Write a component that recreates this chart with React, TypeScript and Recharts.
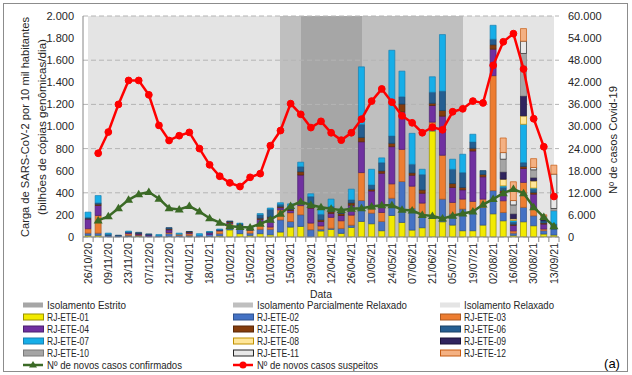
import React from "react";
import { Bar, CartesianGrid, ComposedChart, Line, XAxis, YAxis } from "recharts";

// weekly categories (epidemiological weeks)
const weeks = [
  "26/10/20", "02/11/20", "09/11/20", "16/11/20", "23/11/20", "30/11/20", "07/12/20", "14/12/20",
  "21/12/20", "28/12/20", "04/01/21", "11/01/21", "18/01/21", "25/01/21", "01/02/21", "08/02/21",
  "15/02/21", "22/02/21", "01/03/21", "08/03/21", "15/03/21", "22/03/21", "29/03/21", "05/04/21",
  "12/04/21", "19/04/21", "26/04/21", "03/05/21", "10/05/21", "17/05/21", "24/05/21", "31/05/21",
  "07/06/21", "14/06/21", "21/06/21", "28/06/21", "05/07/21", "12/07/21", "19/07/21", "26/07/21",
  "02/08/21", "09/08/21", "16/08/21", "23/08/21", "30/08/21", "06/09/21", "13/09/21"
];

// isolation phases: first week of each phase
const phaseStarts = ["26/10/20", "08/03/21", "22/03/21", "03/05/21", "12/07/21"];
const phaseNames = [
  "Isolamento Relaxado",
  "Isolamento Parcialmente Relaxado",
  "Isolamento Estrito",
  "Isolamento Parcialmente Relaxado",
  "Isolamento Relaxado"
];

// SARS-CoV-2 load per station (bilhões de cópias / 10 mil hab / dia)
const ete01 = [15, 15, 0, 0, 5, 8, 0, 0, 5, 0, 5, 0, 3, 10, 65, 30, 15, 30, 20, 45, 90, 96, 0, 55, 69, 33, 87, 141, 120, 57, 195, 132, 63, 84, 960, 138, 108, 57, 57, 108, 210, 147, 15, 138, 102, 27, 18];
const ete02 = [20, 20, 15, 10, 10, 5, 8, 12, 25, 15, 10, 15, 20, 20, 15, 40, 20, 40, 50, 110, 50, 105, 66, 15, 10, 45, 20, 189, 96, 84, 156, 370, 195, 93, 20, 205, 99, 196, 181, 160, 210, 75, 20, 130, 90, 30, 54];
const ete03 = [40, 160, 0, 0, 15, 5, 0, 0, 10, 10, 15, 0, 0, 25, 40, 20, 25, 50, 20, 90, 80, 83, 60, 30, 99, 69, 91, 253, 39, 81, 130, 291, 202, 130, 60, 397, 106, 90, 84, 75, 1040, 106, 20, 226, 67, 15, 0];
const ete04 = [87, 90, 0, 0, 10, 10, 10, 0, 25, 0, 10, 0, 15, 5, 10, 10, 10, 40, 80, 20, 20, 277, 135, 40, 36, 48, 90, 279, 162, 355, 337, 340, 99, 89, 150, 354, 135, 84, 457, 202, 240, 75, 50, 126, 129, 45, 0];
const ete05 = [5, 12, 0, 0, 0, 4, 0, 0, 8, 0, 8, 0, 0, 0, 10, 5, 5, 10, 10, 10, 10, 30, 15, 15, 15, 18, 20, 39, 15, 21, 30, 70, 21, 30, 20, 51, 36, 21, 24, 21, 40, 15, 10, 18, 15, 10, 0];
const ete06 = [10, 12, 10, 6, 5, 10, 10, 0, 12, 0, 2, 0, 7, 7, 5, 15, 10, 30, 70, 20, 25, 45, 90, 50, 47, 31, 28, 117, 39, 75, 66, 66, 78, 139, 100, 175, 129, 135, 57, 35, 50, 30, 20, 36, 30, 20, 45];
const ete07 = [48, 66, 10, 0, 8, 0, 0, 10, 0, 10, 0, 15, 5, 5, 0, 5, 5, 12, 12, 15, 25, 41, 25, 50, 67, 8, 97, 522, 142, 43, 776, 232, 280, 48, 140, 512, 91, 166, 70, 0, 126, 15, 15, 346, 10, 0, 121];
const ete08 = [0, 0, 0, 0, 0, 0, 0, 0, 0, 0, 0, 0, 0, 0, 0, 0, 0, 0, 0, 0, 0, 0, 0, 0, 0, 0, 0, 0, 0, 0, 0, 0, 0, 0, 0, 0, 0, 0, 0, 0, 0, 60, 15, 76, 65, 0, 0];
const ete09 = [0, 0, 0, 0, 0, 0, 0, 0, 0, 0, 0, 0, 0, 0, 0, 0, 0, 0, 0, 0, 0, 0, 0, 0, 0, 0, 0, 0, 0, 0, 0, 0, 0, 0, 0, 0, 0, 0, 0, 0, 0, 66, 45, 180, 30, 20, 0];
const ete10 = [0, 0, 0, 0, 0, 0, 0, 0, 0, 0, 0, 0, 0, 0, 0, 0, 0, 0, 0, 0, 0, 0, 0, 0, 0, 0, 0, 0, 0, 0, 0, 0, 0, 0, 0, 0, 0, 0, 0, 0, 0, 115, 80, 385, 70, 20, 20];
const ete11 = [0, 0, 0, 0, 0, 0, 0, 0, 0, 0, 0, 0, 0, 0, 0, 0, 0, 0, 0, 0, 0, 0, 0, 0, 0, 0, 0, 0, 0, 0, 0, 0, 0, 0, 0, 0, 0, 0, 0, 0, 0, 60, 40, 111, 21, 0, 311];
const ete12 = [0, 0, 0, 0, 0, 0, 0, 0, 0, 0, 0, 0, 0, 0, 0, 0, 0, 0, 0, 0, 0, 0, 0, 0, 0, 0, 0, 0, 0, 0, 0, 0, 0, 0, 0, 0, 0, 0, 0, 0, 0, 132, 170, 114, 80, 14, 81];

// weekly Covid-19 cases (right axis)
const confirmados = [null, 4500, 5600, 7800, 10100, 11600, 12200, 10400, 7800, 7500, 8400, 6900, 5100, 3900, 2900, 2700, 2600, 3600, 4700, 6300, 8400, 9600, 8700, 8100, 7700, 7300, 7700, 7800, 8300, 8600, 8600, 7400, 7200, 6000, 5700, 5000, 5800, 6400, 6900, 8800, 10300, 11900, 13000, 11900, 8100, 5400, 2900];
const suspeitos = [null, 22740, 28500, 36000, 42500, 42500, 38600, 30300, 26200, 27500, 28400, 24000, 19600, 16500, 14700, 13700, 16200, 17200, 24800, 28900, 36200, 33300, 29700, 31400, 28300, 26300, 28300, 32000, 36900, 40200, 36600, 32900, 31000, 28300, 29800, 29100, 34000, 34800, 36900, 36400, 46600, 53000, 55200, 45600, 32100, 24500, 11000];

const leftTicks = [0, 200, 400, 600, 800, 1000, 1200, 1400, 1600, 1800, 2000];
const rightTicks = [0, 6000, 12000, 18000, 24000, 30000, 36000, 42000, 48000, 54000, 60000];

const stations = [
  { key: "ete01", name: "RJ-ETE-01", values: ete01, fill: "#f2ea00", stroke: "#9a9300" },
  { key: "ete02", name: "RJ-ETE-02", values: ete02, fill: "#4472c4", stroke: "#2f528f" },
  { key: "ete03", name: "RJ-ETE-03", values: ete03, fill: "#ed7d31", stroke: "#ae5a21" },
  { key: "ete04", name: "RJ-ETE-04", values: ete04, fill: "#7030a0", stroke: "#4b2070" },
  { key: "ete05", name: "RJ-ETE-05", values: ete05, fill: "#843c0c", stroke: "#5a2808" },
  { key: "ete06", name: "RJ-ETE-06", values: ete06, fill: "#255e91", stroke: "#1a4266" },
  { key: "ete07", name: "RJ-ETE-07", values: ete07, fill: "#16aee8", stroke: "#1a7fb0" },
  { key: "ete08", name: "RJ-ETE-08", values: ete08, fill: "#ffe699", stroke: "#bf9000" },
  { key: "ete09", name: "RJ-ETE-09", values: ete09, fill: "#30245e", stroke: "#1a1238" },
  { key: "ete10", name: "RJ-ETE-10", values: ete10, fill: "#a5a5a5", stroke: "#7b7b7b" },
  { key: "ete11", name: "RJ-ETE-11", values: ete11, fill: "#e8e8e8", stroke: "#262626" },
  { key: "ete12", name: "RJ-ETE-12", values: ete12, fill: "#f4b183", stroke: "#c55a11" }
];

const phaseColors: Record<string, string> = {
  "Isolamento Estrito": "#a6a6a6",
  "Isolamento Parcialmente Relaxado": "#bfbfbf",
  "Isolamento Relaxado": "#e4e4e4"
};

const RED = "#ff0000";
const GREEN = "#3b6a26";
const FONT = "'Liberation Sans', Arial, sans-serif";
const TEXT = "#262626";

const W = 632;
const H = 375;
const PLOT = { left: 83, right: 559, top: 16, bottom: 237 };
const LEFT_W = 60;
const RIGHT_W = 50;
const XAXIS_H = 50;

const rows = weeks.map((week, i) => {
  const row: Record<string, any> = { week, confirmados: confirmados[i], suspeitos: suspeitos[i] };
  stations.forEach((s) => (row[s.key] = s.values[i]));
  return row;
});

const fmt = (v: number) => String(v).replace(/\B(?=(\d{3})+(?!\d))/g, ".");

// stripe edges at the centre of the first week of each phase (and the last week)
const phaseEdges = ({ xAxis, offset }: any) => {
  const idx = [...phaseStarts.map((d) => weeks.indexOf(d)), weeks.length - 1];
  return idx.map((i) => {
    const sc = xAxis && xAxis.scale;
    if (typeof sc === "function" && typeof sc.bandwidth === "function") {
      const v = sc(weeks[i]) + sc.bandwidth() / 2;
      if (Number.isFinite(v)) return v;
    }
    return offset.left + (offset.width * (i + 0.5)) / weeks.length;
  });
};
const stripeFills = ["none", ...phaseNames.map((p) => phaseColors[p]), "none"];

const WeekTick = (props: any) => {
  const { x, y, payload } = props;
  const i = weeks.indexOf(payload.value);
  const bw = (PLOT.right - PLOT.left) / weeks.length;
  return (
    <g>
      <line x1={x - bw / 2} x2={x - bw / 2} y1={y} y2={y + 5} stroke="#868686" />
      {i === weeks.length - 1 && <line x1={x + bw / 2} x2={x + bw / 2} y1={y} y2={y + 5} stroke="#868686" />}
      {i % 2 === 0 && (
        <text
          transform={`translate(${x},${y + 6}) rotate(-90)`}
          textAnchor="end"
          dy="0.35em"
          fontSize={10.5}
          fontFamily={FONT}
          fill={TEXT}
          textLength={41}
          lengthAdjust="spacingAndGlyphs"
        >
          {payload.value}
        </text>
      )}
    </g>
  );
};

const TriangleDot = (props: any) => {
  const { cx, cy, index } = props;
  if (cx == null || cy == null) return <g key={`t-${index}`} />;
  return <path key={`t-${index}`} d={`M${cx},${cy - 4.5}L${cx + 4.5},${cy + 3}L${cx - 4.5},${cy + 3}Z`} fill={GREEN} />;
};

const legendCols = [23, 233, 440];
const legendRows = [305, 317, 329, 341, 353, 365];
const bandLegend = [
  { name: "Isolamento Estrito", len: 79 },
  { name: "Isolamento Parcialmente Relaxado", len: 150 },
  { name: "Isolamento Relaxado", len: 90 }
];

const Label = ({ x, y, len, children, size = 11 }: any) => (
  <text x={x} y={y} dy="0.35em" fontSize={size} fill={TEXT} textLength={len} lengthAdjust="spacingAndGlyphs">
    {children}
  </text>
);

const Overlay = () => (
  <svg width={W} height={H} style={{ position: "absolute", left: 0, top: 0, pointerEvents: "none" }} fontFamily={FONT}>
    <rect x={3.5} y={3.5} width={624} height={368} fill="none" stroke="#8c8c8c" />
    <text transform="translate(25,127) rotate(-90)" textAnchor="middle" dy="0.35em" fontSize={11.5} fill={TEXT} textLength={220} lengthAdjust="spacingAndGlyphs">
      Carga de SARS-CoV-2 por 10 mil habitantes
    </text>
    <text transform="translate(42,127) rotate(-90)" textAnchor="middle" dy="0.35em" fontSize={11.5} fill={TEXT} textLength={176} lengthAdjust="spacingAndGlyphs">
      (bilhões de cópias genômicas/dia)
    </text>
    <text transform="translate(613,140) rotate(-90)" textAnchor="middle" dy="0.35em" fontSize={11.5} fill={TEXT} textLength={108} lengthAdjust="spacingAndGlyphs">
      Nº de casos Covid-19
    </text>
    <text x={321} y={294} textAnchor="middle" dy="0.35em" fontSize={11.5} fill={TEXT} textLength={22} lengthAdjust="spacingAndGlyphs">
      Data
    </text>
    {bandLegend.map((b, c) => (
      <g key={b.name}>
        <rect x={legendCols[c]} y={legendRows[0] - 2.5} width={20} height={5} fill={phaseColors[b.name]} />
        <Label x={legendCols[c] + 24} y={legendRows[0]} len={b.len}>
          {b.name}
        </Label>
      </g>
    ))}
    {stations.map((s, k) => {
      const c = k % 3;
      const r = 1 + Math.floor(k / 3);
      return (
        <g key={s.key}>
          <rect x={legendCols[c] + 0.5} y={legendRows[r] - 3} width={20} height={6} fill={s.fill} stroke={s.stroke} strokeWidth={1} />
          <Label x={legendCols[c] + 24} y={legendRows[r]} len={42}>
            {s.name}
          </Label>
        </g>
      );
    })}
    <g>
      <line x1={legendCols[0]} x2={legendCols[0] + 20} y1={legendRows[5]} y2={legendRows[5]} stroke={GREEN} strokeWidth={2.5} />
      <path d={`M${legendCols[0] + 10},${legendRows[5] - 4}L${legendCols[0] + 14},${legendRows[5] + 2.5}L${legendCols[0] + 6},${legendRows[5] + 2.5}Z`} fill={GREEN} />
      <Label x={legendCols[0] + 24} y={legendRows[5]} len={135}>
        Nº de novos casos confirmados
      </Label>
    </g>
    <g>
      <line x1={legendCols[1]} x2={legendCols[1] + 20} y1={legendRows[5]} y2={legendRows[5]} stroke={RED} strokeWidth={2.5} />
      <circle cx={legendCols[1] + 10} cy={legendRows[5]} r={3.5} fill={RED} />
      <Label x={legendCols[1] + 24} y={legendRows[5]} len={121}>
        Nº de novos casos suspeitos
      </Label>
    </g>
    <text x={612} y={363} textAnchor="middle" dy="0.35em" fontSize={13} fill="#000">
      (a)
    </text>
  </svg>
);

export default function App() {
  return (
    <div style={{ position: "absolute", left: 0, top: 0, width: W, height: H, background: "#fff" }}>
      <ComposedChart
        width={W}
        height={H}
        data={rows}
        barGap={0}
        margin={{
          top: PLOT.top,
          left: PLOT.left - LEFT_W,
          right: W - PLOT.right - RIGHT_W,
          bottom: H - PLOT.bottom - XAXIS_H
        }}
      >
        <CartesianGrid
          yAxisId="left"
          horizontal={false}
          vertical
          stroke="none"
          verticalFill={stripeFills}
          fillOpacity={1}
          verticalCoordinatesGenerator={phaseEdges}
        />
        <CartesianGrid yAxisId="left" vertical={false} stroke="#b4b4b4" strokeDasharray="5 3" />
        <XAxis
          dataKey="week"
          interval={0}
          height={XAXIS_H}
          tickSize={0}
          tickMargin={0}
          tickLine={false}
          axisLine={{ stroke: "#868686" }}
          tick={<WeekTick />}
        />
        <YAxis
          yAxisId="left"
          domain={[0, 2000]}
          ticks={leftTicks}
          tickFormatter={fmt}
          width={LEFT_W}
          tickSize={0}
          tickMargin={9}
          tickLine={false}
          axisLine={{ stroke: "#868686" }}
          tick={{ fontSize: 11, fill: TEXT, fontFamily: FONT }}
          allowDataOverflow
        />
        <YAxis
          yAxisId="right"
          orientation="right"
          domain={[0, 60000]}
          ticks={rightTicks}
          tickFormatter={fmt}
          width={RIGHT_W}
          tickSize={0}
          tickMargin={9}
          tickLine={false}
          axisLine={false}
          tick={{ fontSize: 11, fill: TEXT, fontFamily: FONT, textAnchor: "start" }}
          allowDataOverflow
        />
        {stations.map((s) => (
          <Bar
            key={s.key}
            yAxisId="left"
            dataKey={s.key}
            name={s.name}
            stackId="ete"
            fill={s.fill}
            stroke={s.stroke}
            strokeWidth={0.7}
            barSize={6}
            isAnimationActive={false}
          />
        ))}
        <Line
          yAxisId="right"
          dataKey="confirmados"
          stroke={GREEN}
          strokeWidth={2.5}
          dot={TriangleDot}
          activeDot={false}
          isAnimationActive={false}
        />
        <Line
          yAxisId="right"
          dataKey="suspeitos"
          stroke={RED}
          strokeWidth={2.5}
          dot={{ r: 3.4, fill: RED, stroke: RED, strokeWidth: 1 }}
          activeDot={false}
          isAnimationActive={false}
        />
      </ComposedChart>
      <Overlay />
    </div>
  );
}
